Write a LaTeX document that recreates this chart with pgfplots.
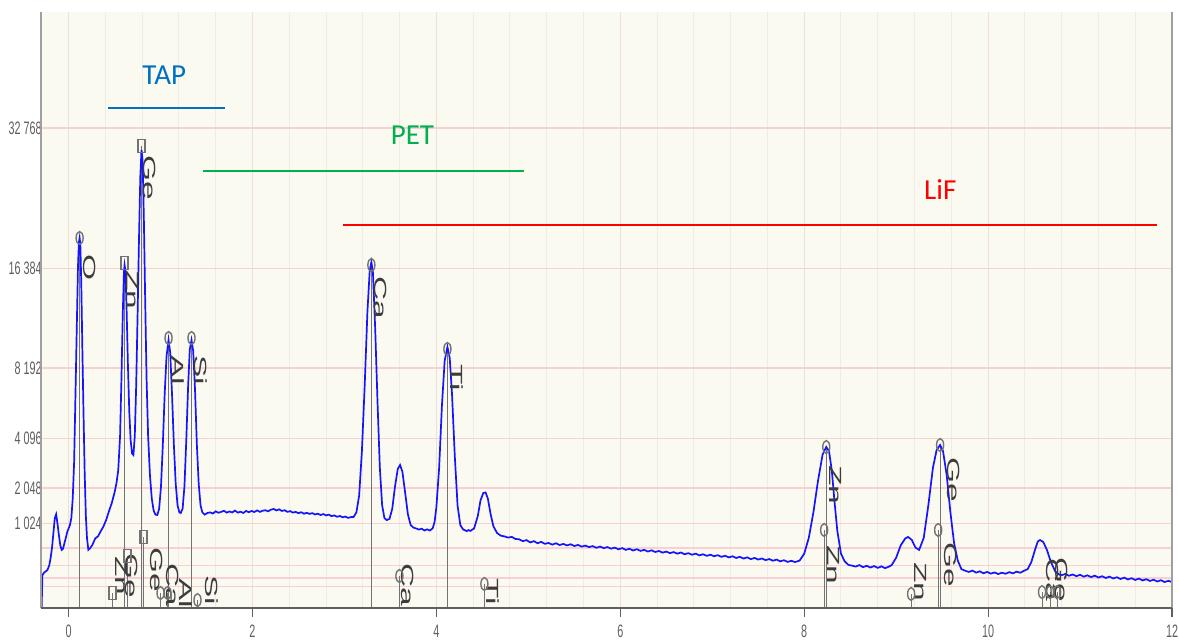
\documentclass[border=0pt]{standalone}
\usepackage{pgfplots}
\pgfplotsset{compat=1.18}
\usetikzlibrary{backgrounds}
\usepackage{fontspec}
\setmainfont{Liberation Sans}
\newfontfamily\tickfont[FakeStretch=0.6]{Liberation Sans}
\newfontfamily\lblfont[FakeStretch=1.9]{Liberation Sans}
\newfontfamily\calfont{Carlito}
\definecolor{cream}{RGB}{251,250,241}
\definecolor{hgrid}{RGB}{246,208,212}
\definecolor{vgrid}{RGB}{244,233,229}
\definecolor{vmgrid}{RGB}{240,222,220}
\definecolor{spec}{RGB}{20,20,255}
\definecolor{tapc}{RGB}{0,112,192}
\definecolor{petc}{RGB}{0,176,80}
\definecolor{lifc}{RGB}{255,0,0}
\definecolor{lblc}{RGB}{60,60,60}
\definecolor{stemc}{RGB}{115,115,115}
\definecolor{tickc}{RGB}{95,95,95}
\tikzset{lbl/.style={font=\lblfont\fontsize{8.8bp}{9bp}\selectfont, text=lblc, rotate=-90, inner sep=0pt}}
\pgfplotsset{stem/.style={draw=stemc, line width=0.5pt, no marks, forget plot}}

\pgfplotstableread{
x v
-0.293 0
-0.285 150
-0.27 175
-0.25 190
-0.23 205
-0.21 260
-0.195 360
-0.18 520
-0.165 800
-0.15 1150
-0.135 1250
-0.12 1000
-0.105 750
-0.09 560
-0.075 480
-0.06 500
-0.045 600
-0.03 700
-0.015 820
0.0 900
0.015 980
0.03 1150
0.045 1700
0.06 3000
0.075 6500
0.09 11500
0.102 16500
0.112 19000
0.12 19480
0.128 18800
0.138 15000
0.15 9500
0.162 5500
0.175 2600
0.188 1200
0.2 700
0.215 480
0.235 510
0.26 570
0.29 690
0.32 730
0.35 840
0.38 950
0.41 1110
0.44 1340
0.47 1570
0.5 1900
0.52 2200
0.54 2700
0.56 4200
0.575 7500
0.59 12500
0.602 16000
0.609 16740
0.618 16200
0.63 13000
0.645 8500
0.66 5500
0.675 4000
0.69 3400
0.705 3331
0.72 4200
0.735 7000
0.75 12000
0.765 19000
0.78 26500
0.793 29860
0.805 28500
0.818 22000
0.832 14000
0.848 7500
0.865 4200
0.885 2500
0.905 1700
0.925 1350
0.945 1240
0.965 1231
0.985 1400
1.005 2100
1.025 3800
1.045 6500
1.065 9000
1.087 10220
1.105 9300
1.125 6500
1.145 3800
1.165 2200
1.185 1500
1.205 1300
1.22 1284
1.24 1400
1.26 2100
1.28 4000
1.3 7000
1.318 9500
1.337 10220
1.355 9400
1.375 6800
1.395 3800
1.415 2200
1.435 1500
1.455 1300
1.48 1240
1.51 1285
1.54 1300
1.57 1270
1.6 1330
1.63 1290
1.66 1315
1.69 1345
1.72 1295
1.75 1325
1.78 1300
1.81 1350
1.84 1295
1.87 1320
1.9 1285
1.93 1340
1.96 1305
1.99 1340
2.02 1310
2.05 1355
2.08 1315
2.11 1345
2.14 1360
2.17 1330
2.2 1375
2.23 1395
2.26 1355
2.29 1385
2.32 1340
2.35 1360
2.38 1315
2.41 1335
2.44 1295
2.47 1315
2.5 1280
2.53 1305
2.56 1265
2.59 1290
2.62 1260
2.65 1280
2.68 1245
2.71 1265
2.74 1230
2.77 1255
2.8 1220
2.83 1240
2.86 1200
2.89 1220
2.92 1185
2.95 1205
2.98 1170
3.01 1190
3.04 1155
3.07 1175
3.1 1180
3.13 1300
3.16 1800
3.19 3500
3.22 7000
3.25 12500
3.275 16200
3.293 17035
3.31 16000
3.335 11000
3.36 6000
3.385 2800
3.41 1500
3.435 1150
3.46 1100
3.49 1130
3.52 1400
3.55 2100
3.58 2750
3.605 2910
3.63 2650
3.66 1900
3.69 1250
3.72 980
3.75 920
3.78 900
3.81 875
3.84 895
3.87 855
3.9 880
3.93 855
3.96 905
3.98 1050
4.0 1450
4.03 2800
4.06 5800
4.09 8700
4.12 9690
4.145 8900
4.17 6500
4.2 3300
4.23 1500
4.26 980
4.29 880
4.31 860
4.33 840
4.35 865
4.37 845
4.39 875
4.41 900
4.45 1200
4.48 1650
4.51 1880
4.535 1900
4.56 1700
4.59 1250
4.62 950
4.66 800
4.7 745
4.74 730
4.78 705
4.82 720
4.86 678
4.9 672
4.94 636
4.98 656
5.02 612
5.06 636
5.1 597
5.14 622
5.18 586
5.22 602
5.26 571
5.3 596
5.34 564
5.38 584
5.42 558
5.46 578
5.5 546
5.54 566
5.58 536
5.62 554
5.66 528
5.7 545
5.74 516
5.78 537
5.82 510
5.86 528
5.9 501
5.94 519
5.98 490
6.02 510
6.06 481
6.1 500
6.14 470
6.18 492
6.22 464
6.26 481
6.3 454
6.34 473
6.38 446
6.42 463
6.46 436
6.5 453
6.54 428
6.58 445
6.62 420
6.66 438
6.7 411
6.74 428
6.78 404
6.82 420
6.86 394
6.9 411
6.94 387
6.98 404
7.02 381
7.06 397
7.1 372
7.14 389
7.18 364
7.22 381
7.26 356
7.3 373
7.34 348
7.38 365
7.42 340
7.46 357
7.5 334
7.54 349
7.58 326
7.62 341
7.66 318
7.7 333
7.74 310
7.78 325
7.82 302
7.86 317
7.9 300
7.95 320
8.0 420
8.05 700
8.1 1300
8.15 2300
8.2 3350
8.24 3690
8.27 3500
8.3 2700
8.33 1600
8.36 850
8.4 420
8.44 310
8.48 265
8.52 255
8.56 244
8.6 262
8.64 237
8.68 254
8.72 233
8.76 250
8.8 229
8.84 247
8.88 226
8.92 243
8.95 260
9.0 360
9.05 560
9.1 690
9.13 717
9.17 660
9.21 520
9.25 480
9.3 700
9.35 1500
9.4 2800
9.44 3550
9.478 3780
9.51 3500
9.55 2500
9.59 1300
9.63 600
9.67 320
9.71 215
9.75 198
9.79 185
9.83 199
9.87 178
9.91 191
9.95 172
9.99 185
10.03 168
10.07 180
10.11 164
10.15 177
10.19 167
10.23 183
10.27 171
10.31 188
10.35 177
10.39 197
10.43 215
10.47 300
10.51 480
10.54 630
10.565 657
10.6 620
10.64 480
10.68 310
10.73 190
10.77 160
10.8 153
10.84 165
10.88 148
10.92 160
10.96 144
11.0 157
11.04 140
11.08 152
11.12 136
11.16 149
11.2 132
11.24 144
11.28 128
11.32 140
11.36 124
11.4 135
11.44 120
11.48 131
11.52 116
11.56 126
11.6 112
11.64 123
11.68 108
11.72 118
11.76 104
11.8 114
11.84 100
11.88 110
11.92 96
11.96 105
12.0 96
}\spectrum

\begin{document}
\begin{tikzpicture}
\begin{axis}[
  name=ax,
  scale only axis,
  width=565.5bp, height=298bp,
  xmin=-0.3, xmax=12,
  ymin=0, ymax=50540,
  y coord trafo/.code={\begingroup\pgfkeys{/pgf/fpu=true,/pgf/fpu/output format=fixed}\pgfmathparse{sqrt(#1)}\xdef\sqtmp{\pgfmathresult}\endgroup\let\pgfmathresult\sqtmp},
  y coord inv trafo/.code={\begingroup\pgfkeys{/pgf/fpu=true,/pgf/fpu/output format=fixed}\pgfmathparse{(#1)*(#1)}\xdef\sqtmp{\pgfmathresult}\endgroup\let\pgfmathresult\sqtmp},
  axis background/.style={fill=cream},
  axis line style={draw=none},
  xtick={0,2,4,6,8,10,12},
  xticklabels={0,2,4,6,8,10,12},
  xtick pos=left,
  minor x tick num=4,
  ytick={1024,2048,4096,8192,16384,32768},
  yticklabels={1\,024,2\,048,4\,096,8\,192,16\,384,32\,768},
  extra y ticks={64,128,256,512},
  extra y tick labels={},
  extra y tick style={grid=major, major grid style={hgrid, line width=0.6pt}, major tick length=0pt},
  xmajorgrids, xminorgrids, ymajorgrids,
  x grid style={vmgrid, line width=0.5pt},
  minor x grid style={vgrid, line width=0.5pt},
  y grid style={hgrid, line width=0.6pt},
  xtick style={draw=tickc, line width=0.6pt},
  minor x tick style={draw=none},
  ytick style={draw=none},
  tick align=outside,
  major tick length=4.5bp,
  xticklabel style={font=\tickfont\fontsize{9bp}{10bp}\selectfont, text=tickc, yshift=-0.5bp},
  yticklabel style={font=\tickfont\fontsize{9bp}{10bp}\selectfont, text=tickc, xshift=8.3bp},
  clip=false,
]
% crystal ranges
\addplot[tapc, line width=1.3bp, no marks] coordinates {(0.424,35570) (1.696,35570)};
\addplot[petc, line width=1.3bp, no marks] coordinates {(1.467,27160) (4.957,27160)};
\addplot[lifc, line width=1.3bp, no marks] coordinates {(2.989,20880) (11.84,20880)};
\node[font=\calfont\fontsize{14.5bp}{16bp}\selectfont, text=tapc] at (axis cs:1.04,40400) {TAP};
\node[font=\calfont\fontsize{14.5bp}{16bp}\selectfont, text=petc] at (axis cs:3.74,31830) {PET};
\node[font=\calfont\fontsize{14.5bp}{16bp}\selectfont, text=lifc] at (axis cs:9.48,24870) {LiF};

% line markers (stems)
\addplot[stem] coordinates {(0.12,19480) (0.12,0)};
\addplot[stem] coordinates {(0.609,16936) (0.609,0)};
\addplot[stem] coordinates {(0.793,30370) (0.793,0)};
\addplot[stem] coordinates {(1.087,10370) (1.087,0)};
\addplot[stem] coordinates {(1.337,10370) (1.337,0)};
\addplot[stem] coordinates {(3.293,16741) (3.293,0)};
\addplot[stem] coordinates {(4.12,9545) (4.12,0)};
\addplot[stem] coordinates {(8.24,3688) (8.24,0)};
\addplot[stem] coordinates {(8.217,866) (8.217,0)};
\addplot[stem] coordinates {(9.478,3780) (9.478,0)};
\addplot[stem] coordinates {(9.457,866) (9.457,0)};
\addplot[stem] coordinates {(3.598,146) (3.598,0)};
\addplot[stem] coordinates {(4.522,82) (4.522,0)};
\addplot[stem] coordinates {(9.163,28) (9.163,0)};
\addplot[stem] coordinates {(10.587,36) (10.587,0)};
\addplot[stem] coordinates {(10.674,36) (10.674,0)};
\addplot[stem] coordinates {(10.75,36) (10.75,0)};
\addplot[stem] coordinates {(0.478,32) (0.478,0)};
\addplot[stem] coordinates {(0.641,385) (0.641,0)};
\addplot[stem] coordinates {(0.815,717) (0.815,0)};
\addplot[stem] coordinates {(1.0,32) (1.0,0)};
\addplot[stem] coordinates {(1.076,32) (1.076,0)};
\addplot[stem] coordinates {(1.402,9) (1.402,0)};

% spectrum
\addplot[spec, line width=0.85bp, no marks] table[x=x, y=v] {\spectrum};

% peak symbols
\addplot[only marks, mark=o, mark size=3.2bp, mark options={xscale=0.55, draw=stemc, line width=0.7pt, fill=none}]
 coordinates {(0.12,19480) (1.087,10370) (1.337,10370) (3.293,16741) (4.12,9545) (8.24,3688) (9.478,3780)
 (8.217,866) (9.457,866) (3.598,146) (4.522,82) (9.163,28) (1.402,9) (1.0,32) (1.076,32)
 (10.587,36) (10.674,36) (10.75,36)};
\addplot[only marks, mark=square, mark size=3.2bp, mark options={xscale=0.55, draw=stemc, line width=0.7pt, fill=none}]
 coordinates {(0.609,16936) (0.793,30370) (0.641,385) (0.815,717) (0.478,32)};

% labels
\node[lbl] at (axis cs:0.232,16450) {O};
\node[lbl] at (axis cs:0.70,14390) {Zn};
\node[lbl] at (axis cs:0.885,26310) {Ge};
\node[lbl] at (axis cs:1.19,8064) {Al};
\node[lbl] at (axis cs:1.44,8064) {Si};
\node[lbl] at (axis cs:3.395,13670) {Ca};
\node[lbl] at (axis cs:4.222,7530) {Ti};
\node[lbl] at (axis cs:8.34,2153) {Zn};
\node[lbl] at (axis cs:8.315,263) {Zn};
\node[lbl] at (axis cs:9.625,2331) {Ge};
\node[lbl] at (axis cs:9.59,263) {Ge};
\node[lbl] at (axis cs:9.27,96) {Zn};
\node[lbl] at (axis cs:3.685,75) {Ca};
\node[lbl] at (axis cs:4.61,36) {Ti};
\node[lbl] at (axis cs:0.576,146) {Zn};
\node[lbl] at (axis cs:0.685,146) {Ge};
\node[lbl] at (axis cs:0.957,205) {Ge};
\node[lbl] at (axis cs:1.13,75) {Ca};
\node[lbl] at (axis cs:1.272,32) {Al};
\node[lbl] at (axis cs:1.554,46) {Si};
\node[lbl] at (axis cs:10.696,112) {Ca};
\node[lbl] at (axis cs:10.80,112) {Ge};

% frame
\draw[draw=tickc!60, line width=0.8pt] (rel axis cs:0,0) -- (rel axis cs:0,1);
\draw[draw=tickc!60, line width=0.6pt] (rel axis cs:1,0) -- (rel axis cs:1,1);
\draw[draw=tickc, line width=0.7pt] (rel axis cs:0,0) -- (rel axis cs:1,0);
\end{axis}
\pgfresetboundingbox
\path[use as bounding box] ([shift={(-20.5bp,-17bp)}]ax.south west) rectangle ([shift={(3.5bp,6bp)}]ax.north east);
\begin{scope}[on background layer]
\fill[white] ([shift={(-20.5bp,-17bp)}]ax.south west) rectangle ([shift={(3.5bp,6bp)}]ax.north east);
\end{scope}
\end{tikzpicture}
\end{document}
